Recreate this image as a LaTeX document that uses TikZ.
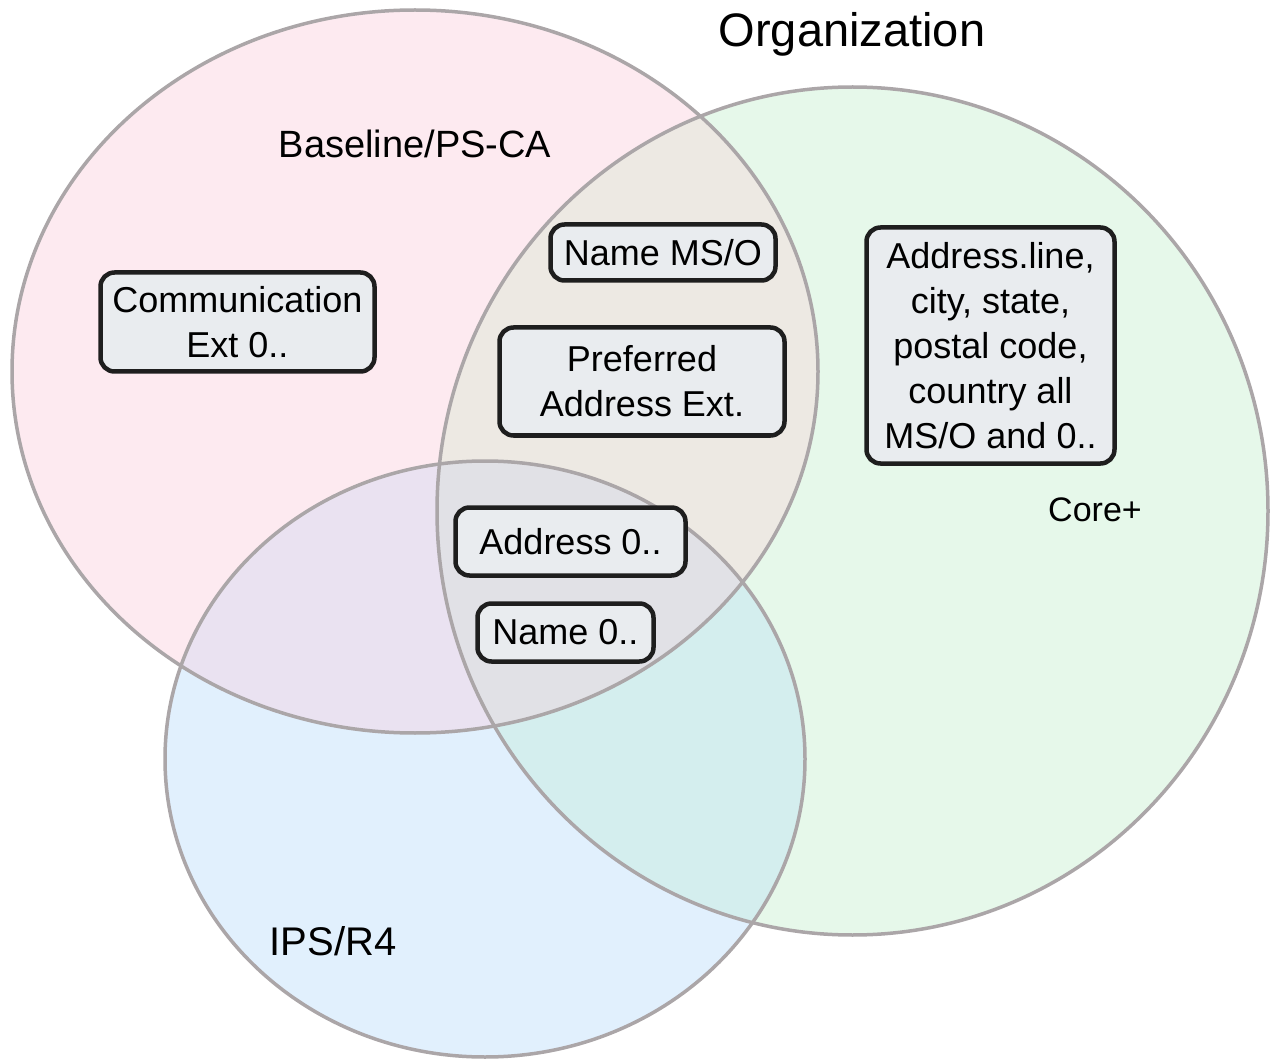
\documentclass[tikz,border=0pt]{standalone}
\usepackage{fontspec}
\setmainfont{Liberation Sans}
\definecolor{pinkset}{HTML}{FDEAF0}
\definecolor{greenset}{HTML}{E6F8EA}
\definecolor{blueset}{HTML}{E1F0FD}
\definecolor{pinkgreen}{HTML}{EDE9E3}
\definecolor{pinkblue}{HTML}{EAE2F1}
\definecolor{greenblue}{HTML}{D4EEEE}
\definecolor{allthree}{HTML}{E1E1E6}
\definecolor{setedge}{HTML}{ABA6A8}
\definecolor{boxfill}{HTML}{E9ECEF}
\definecolor{boxline}{HTML}{1E1E1E}
\begin{document}
\begin{tikzpicture}[x=1pt, y=-1pt,
    item/.style={rectangle, draw=boxline, fill=boxfill, line width=4.5pt, rounded corners=14pt, align=center, inner sep=0pt, font=\fontsize{36}{45}\selectfont},
    setedge/.style={draw=setedge, line width=3.5pt},
    setlabel/.style={anchor=base, font=\fontsize{36}{44}\selectfont}
]
\useasboundingbox (0,0) rectangle (1270,1059);

% Set fills first (background)
\fill[pinkset] (415,371.5) ellipse [x radius=403, y radius=361.5];
\fill[greenset] (852.5,511) ellipse [x radius=415.5, y radius=424];
\fill[blueset] (485,759) ellipse [x radius=320, y radius=298];

% Overlaps
\begin{scope}
  \clip (852.5,511) ellipse [x radius=415.5, y radius=424];
  \fill[greenblue] (485,759) ellipse [x radius=320, y radius=298];
\end{scope}
\begin{scope}
  \clip (415,371.5) ellipse [x radius=403, y radius=361.5];
  \fill[pinkgreen] (852.5,511) ellipse [x radius=415.5, y radius=424];
  \fill[pinkblue] (485,759) ellipse [x radius=320, y radius=298];
  \clip (852.5,511) ellipse [x radius=415.5, y radius=424];
  \fill[allthree] (485,759) ellipse [x radius=320, y radius=298];
\end{scope}

% Set outlines
\draw[setedge] (415,371.5) ellipse [x radius=403, y radius=361.5];
\draw[setedge] (852.5,511) ellipse [x radius=415.5, y radius=424];
\draw[setedge] (485,759) ellipse [x radius=320, y radius=298];

% Set labels
\node[setlabel, font=\fontsize{47}{54}\selectfont] (org) at (852,47) {Organization};
\node[setlabel, font=\fontsize{38}{46}\selectfont] (baseline) at (415,158) {Baseline/PS-CA};
\node[setlabel, font=\fontsize{34}{40}\selectfont] (core) at (1095,521) {Core+};
\node[setlabel, font=\fontsize{40}{48}\selectfont] (ips) at (333,955) {IPS/R4};

% Elements
\node[item, minimum width=274, minimum height=99] (comm) at (237.5,322) {Communication\\Ext 0..};
\node[item, minimum width=225, minimum height=56] (namems) at (663,252.5) {Name MS/O};
\node[item, minimum width=285, minimum height=108] (prefaddr) at (642,381.5) {Preferred\\Address Ext.};
\node[item, minimum width=248, minimum height=236] (addrline) at (990.5,345.5) {Address.line,\\city, state,\\postal code,\\country all\\MS/O and 0..};
\node[item, minimum width=230, minimum height=68] (addr) at (570.5,541.5) {Address 0..};
\node[item, minimum width=176, minimum height=58] (name) at (565.5,632.5) {Name 0..};

\end{tikzpicture}
\end{document}
